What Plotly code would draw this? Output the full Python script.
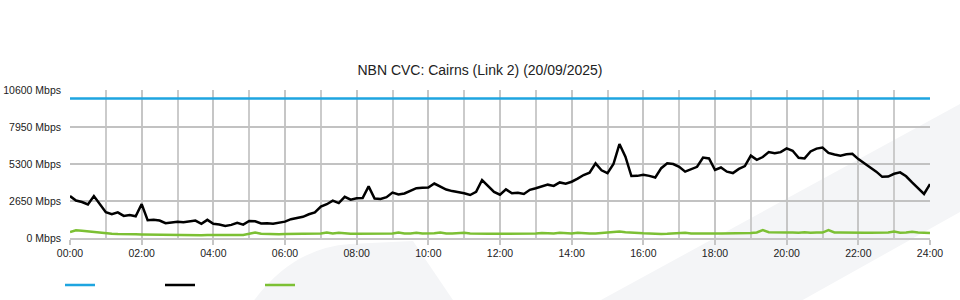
import plotly.graph_objects as go

# ---- data (10-minute samples, 00:00 .. 24:00) ----
minutes = list(range(0, 1441, 10))

capacity = [10000] * len(minutes)

traffic = [
    3000, 2680, 2580, 2400, 3000, 2450, 1850, 1700, 1840, 1580,
    1650, 1560, 2430, 1280, 1310, 1250, 1060, 1110, 1160, 1120,
    1180, 1250, 1020, 1300, 1020, 970, 860, 940, 1080, 960,
    1220, 1200, 1040, 1060, 1020, 1110, 1170, 1350, 1410, 1520,
    1700, 1830, 2250, 2420, 2680, 2500, 2950, 2740, 2840, 2860,
    3700, 2830, 2800, 2920, 3250, 3120, 3190, 3390, 3570, 3600,
    3620, 3900, 3700, 3470, 3360, 3300, 3200, 3080, 3300, 4150,
    3750, 3300, 3100, 3480, 3200, 3240, 3150, 3450, 3560, 3680,
    3820, 3730, 3980, 3890, 4030, 4250, 4510, 4680, 5340, 4850,
    4650, 5300, 6730, 5820, 4440, 4450, 4520, 4450, 4330, 5000,
    5350, 5300, 5100, 4750, 4900, 5100, 5760, 5700, 4870, 5050,
    4750, 4650, 4950, 5150, 5900, 5600, 5800, 6150, 6070, 6150,
    6420, 6250, 5750, 5700, 6200, 6400, 6480, 6100, 5980, 5900,
    6000, 6030, 5650, 5320, 5050, 4750, 4380, 4400, 4600, 4700,
    4420, 3980, 3580, 3150, 3860,
]

lower = [
    430, 560, 520, 470, 420, 400, 360, 300, 280, 290,
    270, 260, 250, 240, 230, 230, 220, 240, 230, 220,
    200, 190, 200, 210, 220, 210, 200, 220, 210, 220,
    300, 400, 300, 280, 270, 270, 280, 290, 300, 300,
    310, 320, 330, 400, 330, 380, 320, 310, 300, 300,
    310, 300, 300, 310, 330, 400, 330, 320, 380, 330,
    320, 340, 400, 330, 320, 330, 380, 320, 300, 300,
    300, 300, 300, 300, 290, 300, 310, 300, 330, 360,
    330, 320, 380, 330, 320, 380, 330, 320, 330, 360,
    380, 420, 470, 420, 380, 350, 340, 330, 300, 290,
    300, 330, 320, 380, 330, 330, 380, 340, 330, 320,
    320, 320, 320, 330, 360, 400, 560, 420, 400, 390,
    390, 400, 380, 420, 380, 400, 390, 560, 400, 390,
    400, 380, 390, 380, 370, 380, 400, 390, 460, 380,
    390, 450, 400, 360, 350,
]

tick_vals_x = list(range(0, 1441, 120))
tick_text_x = ["00:00", "02:00", "04:00", "06:00", "08:00", "10:00", "12:00",
               "14:00", "16:00", "18:00", "20:00", "22:00", "24:00"]
tick_vals_y = [0, 2650, 5300, 7950, 10600]
tick_text_y = ["0 Mbps", "2650 Mbps", "5300 Mbps", "7950 Mbps", "10600 Mbps"]

title_text = "NBN CVC: Cairns (Link 2) (20/09/2025)"

# ---- layout geometry ----
W, H = 960, 300
ML, MR, MT, MB = 70, 30, 90, 62
PW, PH = W - ML - MR, H - MT - MB


def px(x):
    return (x - ML) / PW


def py(y):
    return (H - MB - y) / PH


fig = go.Figure()

fig.add_trace(go.Scatter(x=minutes, y=capacity, mode="lines", name="",
                         line=dict(color="#1ea5e0", width=2.5)))
fig.add_trace(go.Scatter(x=minutes, y=traffic, mode="lines", name="",
                         line=dict(color="#000000", width=2.5)))
fig.add_trace(go.Scatter(x=minutes, y=lower, mode="lines", name="",
                         line=dict(color="#7cc034", width=2.5)))

wm = "#f4f5f7"
band = "M {},{} L {},{} L {},{} L {},{} Z".format(
    px(590), py(306), px(960), py(104), px(960), py(212), px(792), py(306))
blob = "M {},{} Q {},{} {},{} L {},{} L {},{} Z".format(
    px(250), py(306), px(290), py(248), px(350), py(244),
    px(413), py(241), px(457), py(306))

fig.update_layout(
    width=W, height=H,
    margin=dict(l=ML, r=MR, t=MT, b=MB, autoexpand=False),
    paper_bgcolor="white",
    plot_bgcolor="rgba(0,0,0,0)",
    font=dict(family="Liberation Sans, Arial, sans-serif", size=11, color="#222"),
    title=dict(text=title_text, x=0.5, xanchor="center", y=1 - 70 / H,
               yanchor="middle", font=dict(size=14, color="#222")),
    showlegend=True,
    legend=dict(orientation="h", x=px(60), xanchor="left", y=py(285),
                yanchor="middle", entrywidth=55, entrywidthmode="pixels",
                bgcolor="rgba(0,0,0,0)", font=dict(size=1)),
    shapes=[
        dict(type="path", path=band, xref="paper", yref="paper",
             fillcolor=wm, line=dict(width=0), layer="below"),
        dict(type="path", path=blob, xref="paper", yref="paper",
             fillcolor=wm, line=dict(width=0), layer="below"),
    ],
)

fig.update_xaxes(
    range=[0, 1440], tickmode="array", tickvals=tick_vals_x, ticktext=tick_text_x,
    showgrid=True, gridcolor="#c6c6c6", gridwidth=1.5,
    minor=dict(dtick=60, showgrid=True, gridcolor="#cbcbcb", gridwidth=1.5),
    showline=True, linecolor="#c6c6c6", linewidth=1.5,
    ticks="outside", ticklen=5, tickcolor="#c6c6c6", tickwidth=1.5,
    zeroline=False, fixedrange=True, automargin=False,
    tickfont=dict(size=10.5),
)
fig.update_yaxes(
    range=[0, 10600], tickmode="array", tickvals=tick_vals_y, ticktext=tick_text_y,
    showgrid=True, gridcolor="#c2c2c2", gridwidth=2,
    zeroline=False, showline=False, ticks="", ticklabelstandoff=8,
    fixedrange=True, automargin=False,
    tickfont=dict(size=10.5),
)

fig.write_html("out.html")
